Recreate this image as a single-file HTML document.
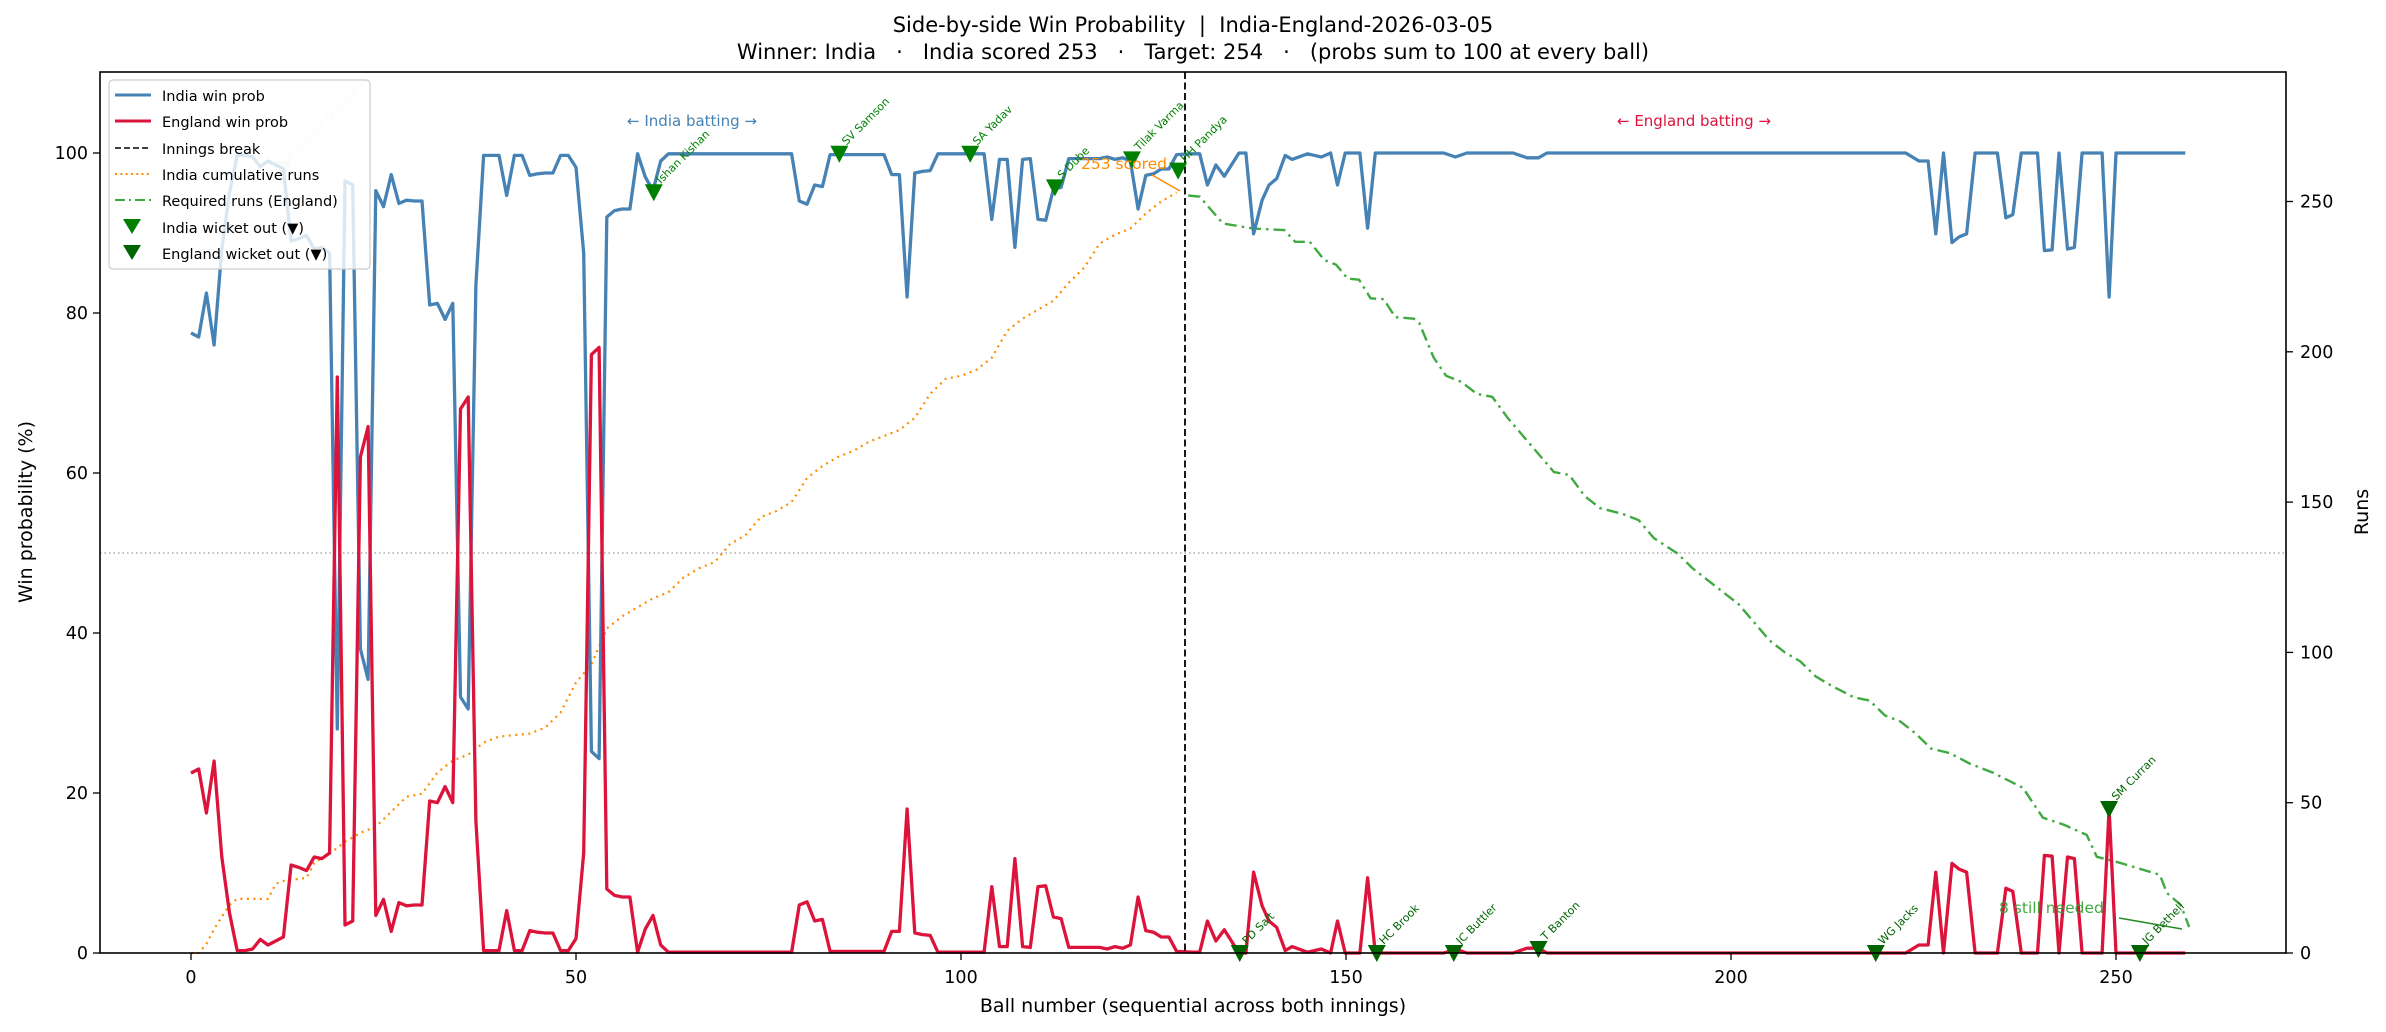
<!DOCTYPE html>
<html><head><meta charset="utf-8"><style>
html,body{margin:0;padding:0;background:#fff}
svg{display:block}
text{font-family:"DejaVu Sans","Liberation Sans",sans-serif}
</style></head><body>
<svg id="s" width="2386" height="1032" viewBox="0 0 2386 1032" xmlns="http://www.w3.org/2000/svg">
<rect width="2386" height="1032" fill="#fff"/>
<g id="plot"></g>
<rect x="100" y="72" width="2186" height="881" fill="none" stroke="#000" stroke-width="1.6"/>
<g id="ticks"></g>
<text x="1193" y="32" font-size="21" text-anchor="middle" xml:space="preserve">Side-by-side Win Probability  |  India-England-2026-03-05</text>
<text x="1193" y="59" font-size="21" text-anchor="middle" xml:space="preserve">Winner: India   ·   India scored 253   ·   Target: 254   ·   (probs sum to 100 at every ball)</text>
<text x="1193" y="1012" font-size="19" text-anchor="middle">Ball number (sequential across both innings)</text>
<text transform="translate(32,512) rotate(-90)" font-size="19" text-anchor="middle">Win probability (%)</text>
<text transform="translate(2368,512) rotate(-90)" font-size="19" text-anchor="middle">Runs</text>
<text x="692" y="126" font-size="15" fill="#4682b4" text-anchor="middle">← India batting →</text>
<text x="1694" y="126" font-size="15" fill="#dc143c" text-anchor="middle">← England batting →</text>
<text x="1081" y="169" font-size="15.5" fill="#ff8c00">253 scored</text>
<line x1="1152" y1="175" x2="1180" y2="191" stroke="#ff8c00" stroke-width="1.5"/>
<text x="1999" y="913" font-size="15.5" fill="#2ca02c" fill-opacity="0.9">8 still needed</text>
<line x1="2119" y1="918" x2="2182" y2="929" stroke="#228b22" stroke-width="1.5"/>
<g id="legend">
<rect x="109" y="80" width="261" height="189" rx="4" fill="#fff" fill-opacity="0.8" stroke="#ccc" stroke-width="1.2"/>
<line x1="115" y1="95" x2="151" y2="95" stroke="#4682b4" stroke-width="3"/>
<text x="162" y="101" font-size="14.5">India win prob</text>
<line x1="115" y1="121" x2="151" y2="121" stroke="#dc143c" stroke-width="3"/>
<text x="162" y="127" font-size="14.5">England win prob</text>
<line x1="115" y1="148" x2="151" y2="148" stroke="#000" stroke-width="1.6" stroke-dasharray="6,3"/>
<text x="162" y="154" font-size="14.5">Innings break</text>
<line x1="115" y1="174" x2="151" y2="174" stroke="#ff8c00" stroke-width="2" stroke-dasharray="2,3.3"/>
<text x="162" y="180" font-size="14.5">India cumulative runs</text>
<line x1="115" y1="200" x2="151" y2="200" stroke="#2ca02c" stroke-width="2" stroke-opacity="0.9" stroke-dasharray="10,4,2,4"/>
<text x="162" y="206" font-size="14.5">Required runs (England)</text>
<path d="M123,219 L141,219 L132,234 Z" fill="#008000"/>
<text x="162" y="233" font-size="14.5">India wicket out (▼)</text>
<path d="M123,245 L141,245 L132,260 Z" fill="#006400"/>
<text x="162" y="259" font-size="14.5">England wicket out (▼)</text>
</g>
<script>
(function(){
const NS="http://www.w3.org/2000/svg";
const X=b=>191+7.70*b, YL=p=>953-8.0*p, YR=r=>953-3.006*r;
const plot=document.getElementById('plot'), tk=document.getElementById('ticks');
function el(tag,attrs,parent,txt){const e=document.createElementNS(NS,tag);for(const k in attrs)e.setAttribute(k,attrs[k]);if(txt!==undefined)e.textContent=txt;(parent||plot).appendChild(e);return e;}
el('line',{x1:100,x2:2286,y1:YL(50),y2:YL(50),stroke:'#808080','stroke-width':1.2,'stroke-dasharray':'1.5,3','stroke-opacity':0.8});
const B=[[0,77.5],[1,77],[2,82.5],[3,76],[4,88],[5,95],[6,99.7],[7,99.7],[8,99.5],[9,98.3],[10,99],[11,98.5],[12,98],[13,89],[14,89.3],[15,89.7],[16,88],[17,88.2],[18,87.5],[19,28],[20,96.5],[21,96],[22,38],[23,34.2],[24,95.3],[25,93.3],[26,97.3],[27,93.7],[28,94.1],[29,94],[30,94],[31,81],[32,81.2],[33,79.2],[34,81.2],[35,32],[36,30.5],[37,83.5],[38,99.7],[39,99.7],[40,99.7],[41,94.7],[42,99.7],[43,99.7],[44,97.2],[45,97.4],[46,97.5],[47,97.5],[48,99.7],[49,99.7],[50,98.2],[51,87.5],[52,25.2],[53,24.3],[54,92],[55,92.8],[56,93],[57,93],[58,99.9],[59,97],[60,95.3],[61,99],[62,99.9],[78,99.9],[79,94],[80,93.6],[81,96],[82,95.8],[83,99.8],[90,99.8],[91,97.3],[92,97.3],[93,82],[94,97.5],[95,97.7],[96,97.8],[97,99.9],[103,99.9],[104,91.7],[105,99.2],[106,99.2],[107,88.2],[108,99.2],[109,99.3],[110,91.7],[111,91.6],[112,95.5],[113,95.7],[114,99.3],[118,99.3],[119,99.5],[120,99.2],[121,99.4],[122,99],[123,93],[124,97.2],[125,97.4],[126,98],[127,98],[128,99.8],[130,99.9],[131,99.9],[132,96],[133.1,98.5],[134.2,97.1],[136.1,100],[137,100],[138,89.9],[139.1,94.1],[140,96],[141,96.8],[142.1,99.7],[143,99.2],[145,99.9],[146.8,99.5],[148,100],[148.9,96],[149.9,100],[151.8,100],[152.8,90.6],[153.8,100],[162.7,100],[164.2,99.5],[165.7,100],[171.7,100],[173.5,99.4],[175,99.4],[176.1,100],[222.7,100],[224.4,99],[225.6,99],[226.6,89.9],[227.6,100],[228.7,88.8],[229.6,89.5],[230.6,89.9],[231.7,100],[234.6,100],[235.7,91.9],[236.6,92.3],[237.7,100],[239.8,100],[240.7,87.8],[241.7,87.9],[242.6,100],[243.7,88],[244.6,88.2],[245.6,100],[248.2,100],[249.1,82],[250,100],[259,100]];
const pts=f=>B.map(([b,p])=>X(b).toFixed(1)+','+f(p).toFixed(1)).join(' ');
const O=[[0,0],[1,0],[2,3],[3,8],[4,12],[5,16],[6,18],[10,18],[11,23],[12,24],[15,25],[16,30],[18,33],[20,37],[22,40],[24,42],[26,47],[28,52],[30,53],[32,60],[34,64],[36,66],[38,70],[40,72],[44,73],[46,75],[48,80],[50,90],[52,96],[54,108],[56,112],[58,115],[60,118],[62,120],[64,125],[66,128],[68,130],[70,136],[72,139],[74,145],[76,147],[78,150],[80,158],[82,162],[84,165],[86,167],[88,170],[90,172],[92,174],[94,178],[96,186],[98,191],[100,192],[102,194],[104,198],[106,207],[108,211],[110,214],[112,217],[114,223],[116,228],[118,236],[120,239],[122,241],[124,246],[126,250],[128,253]];
const G=[[129.5,252],[131,251.6],[134,242.7],[138,241],[142,240.5],[143.4,236.6],[145.3,236.6],[147.2,230.5],[148.7,229],[150.2,224.4],[151.7,224],[153.2,217.8],[154.9,217.5],[156.4,211.5],[158.8,211],[159.5,209.6],[161.4,198],[163,192],[165,190],[167,186],[169,185],[171,178],[173,172],[175,166],[177,160],[179,159],[181,152],[183,148],[186,146],[188,144],[190,138],[193,133],[195,128],[197,124],[199,120],[201,116],[203,110],[205,104],[207,100],[209,97],[211,92],[213,89],[216,85],[218,84],[220,79],[222,77],[224,73],[226,68],[228.4,66.5],[231,63],[234,60],[237.9,55],[240.5,45],[243.2,42.7],[246.2,39.3],[247.5,32],[250.5,30],[255.7,26],[256.6,20],[258.4,16],[259.5,8.6]];
const rp=a=>a.map(([b,r])=>X(b).toFixed(1)+','+YR(r).toFixed(1)).join(' ');
el('polyline',{points:rp(O),fill:'none',stroke:'#ff8c00','stroke-width':2.2,'stroke-dasharray':'2,4.5'});
el('polyline',{points:rp(G),fill:'none',stroke:'#2ca02c','stroke-opacity':0.9,'stroke-width':2.4,'stroke-dasharray':'12,5,2.5,5'});
el('polyline',{points:pts(YL),fill:'none',stroke:'#4682b4','stroke-width':3.3,'stroke-linejoin':'round'});
el('polyline',{points:pts(p=>YL(100-p)),fill:'none',stroke:'#dc143c','stroke-width':3.3,'stroke-linejoin':'round'});
el('line',{x1:1185,x2:1185,y1:72,y2:953,stroke:'#000','stroke-width':1.8,'stroke-dasharray':'7,3.5'});
function tri(x,y,c,op){el('path',{d:`M${x-9},${y-8} L${x+9},${y-8} L${x},${y+9} Z`,fill:c,'fill-opacity':op||1});}
function lab(x,y,t,c,op){el('text',{transform:`translate(${x+7},${y-8}) rotate(-45)`,'font-size':11,fill:c,'fill-opacity':op||1},null,t);}
const IW=[[12,98,'Abhishek Sharma',0.15],[60.1,95.1,'Ishan Kishan'],[84.2,99.9,'SV Samson'],[101.2,99.9,'SA Yadav'],[112.2,95.7,'S Dube'],[122.2,99.2,'Tilak Varma'],[128.2,97.8,'HH Pandya']];
IW.forEach(([b,p,t,op])=>{tri(X(b),YL(p),'#008000',op);lab(X(b),YL(p),t,'#008000',op);});
const EW=[[136.2,0,'PD Salt'],[154,0,'HC Brook'],[164,0,'JC Buttler'],[175,0.5,'T Banton'],[218.8,0,'WG Jacks'],[249.1,18,'SM Curran'],[253.1,0,'JG Bethell']];
EW.forEach(([b,p,t])=>{tri(X(b),YL(p),'#006400');lab(X(b),YL(p),t,'#006400');});
for(let v=0;v<=250;v+=50){const x=X(v);el('line',{x1:x,x2:x,y1:953,y2:960,stroke:'#000','stroke-width':1.3},tk);el('text',{x:x,y:983,'font-size':17.5,'text-anchor':'middle'},tk,String(v));}
for(let v=0;v<=100;v+=20){const y=YL(v);el('line',{x1:93,x2:100,y1:y,y2:y,stroke:'#000','stroke-width':1.3},tk);el('text',{x:88,y:y+6,'font-size':17.5,'text-anchor':'end'},tk,String(v));}
for(let v=0;v<=250;v+=50){const y=YR(v);el('line',{x1:2286,x2:2293,y1:y,y2:y,stroke:'#000','stroke-width':1.3},tk);el('text',{x:2300,y:y+6,'font-size':17.5},tk,String(v));}
})();
</script>
</svg>
</body></html>
